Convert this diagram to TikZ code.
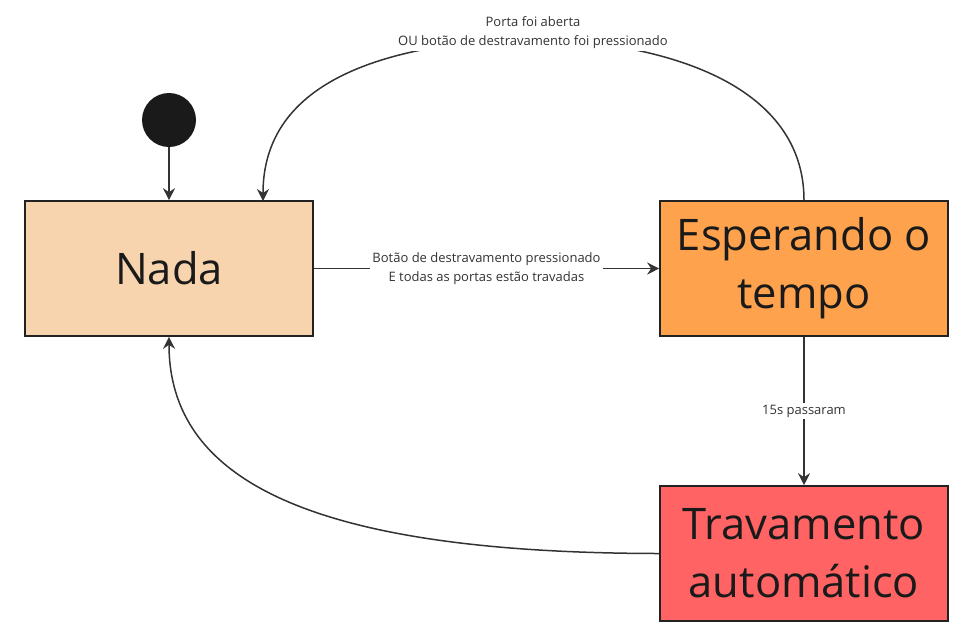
\documentclass[tikz,border=0pt]{standalone}
\usepackage{fontspec}
\setmainfont{Open Sans}
\usetikzlibrary{arrows.meta}
\definecolor{lineC}{HTML}{333333}
\definecolor{edgeC}{HTML}{222222}
\definecolor{nadaC}{HTML}{F8D4AE}
\definecolor{espC}{HTML}{FFA24D}
\definecolor{travC}{HTML}{FF6363}
\definecolor{txtC}{HTML}{1A1A1A}
\begin{document}
\begin{tikzpicture}[x=1pt,y=-1pt,
  statebox/.style={draw=edgeC,line width=1.6pt,minimum width=288pt,minimum height=135pt,inner sep=0pt,align=center,text=txtC,
    font=\fontsize{43.5}{58}\selectfont},
  conn/.style={draw=lineC,line width=1.5pt,-{Stealth[length=12pt,width=12pt]}},
  lbl/.style={fill=white,inner sep=2pt,align=center,text=lineC,font=\fontsize{13}{19}\selectfont}]
\useasboundingbox (0,0) rectangle (955,641);
\node[statebox,fill=nadaC] (nada) at (169,268.5) {Nada};
\node[statebox,fill=espC] (esp) at (804,268.5) {Esperando o\\tempo};
\node[statebox,fill=travC] (trav) at (804,553.5) {Travamento\\automático};
\node[circle,fill=txtC,minimum size=54pt,inner sep=0pt] (init) at (169,120) {};
\coordinate (nadatop) at (263,201);
\draw[conn] (init) -- (nada);
\draw[conn] (nada) -- node[lbl] {Botão de destravamento pressionado\\E todas as portas estão travadas} (esp);
\draw[conn] (esp) -- node[lbl] {15s passaram} (trav);
\draw[conn] (esp.north) .. controls (804,100) and (700,45) .. (533,38) coordinate (topmid)
  .. controls (330,45) and (263,110) .. (nadatop);
\node[lbl] (toplbl) at (533,33) {Porta foi aberta\\OU botão de destravamento foi pressionado};
\draw[conn] (trav.west) .. controls (310,553) and (169,480) .. (nada.south);
\end{tikzpicture}
\end{document}
